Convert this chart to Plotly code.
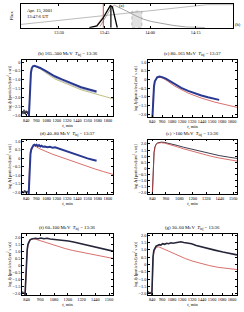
import plotly.graph_objects as go

W, H = 244, 312
FONT = "Liberation Serif"

# ---------------- panel (a) data ----------------
a_ticks = [810, 825, 840, 855]
a_ticktext = ["13:30", "13:45", "14:00", "14:15"]
a_diag_t = [797.5, 858.8, 867.3]
a_diag_v = [0.14, 0.97, 0.97]
a_nm_t = [820.0, 822.5, 824.5, 825.5, 826.3, 826.9, 827.6, 828.3, 829.2]
a_nm_v = [0.0, 0.08, 0.4, 0.62, 0.82, 0.93, 0.88, 0.45, 0.0]
a_prof_t = [823.5, 825.5, 827.0, 828.2, 830.0, 832.3, 835.0, 837.8, 840.5, 843.3, 847.5, 852.0, 858.0]
a_prof_v = [0.05, 0.45, 0.8, 0.95, 0.85, 0.7, 0.52, 0.36, 0.26, 0.19, 0.1, 0.03, 0.01]
a_pink_t = [822.0, 824.5, 826.5, 828.0]
a_pink_v = [0.05, 0.45, 0.82, 0.95]
a_red_t = 824.6
a_now_t = 827.1
a_hatch_t = [834.0, 837.3]
a_hatch_top = 0.7

# ---------------- panel (b) 165-500 MeV ----------------
b_noise_t = [790, 796, 802, 808, 814, 820, 826, 832, 838, 844, 850, 856, 862, 868]
b_noise_v = [-2.9, -2.78, -2.95, -2.82, -2.7, -2.93, -2.8, -2.97, -2.75, -2.88, -2.8, -2.95, -2.78, -2.9]
b_obs_t = [871, 876, 882, 888, 895, 905, 918, 938, 960, 1004, 1068, 1120, 1175, 1260, 1346, 1420, 1485, 1580, 1667]
b_obs_v = [-3.1, -2.4, -1.6, -1.0, -0.6, -0.35, -0.23, -0.2, -0.24, -0.33, -0.5, -0.65, -0.8, -0.98, -1.15, -1.29, -1.42, -1.55, -1.66]
b_mod2_t = [938, 960, 1004, 1068, 1175, 1260, 1346, 1485, 1580, 1667]
b_mod2_v = [-0.21, -0.26, -0.36, -0.56, -0.88, -1.06, -1.23, -1.5, -1.63, -1.74]
b_mod_t = [869, 875, 881, 888, 895, 905, 918, 938, 960, 1004, 1068, 1175, 1260, 1346, 1485, 1580, 1667, 1760, 1860]
b_mod_v = [-3.1, -2.3, -1.5, -0.9, -0.55, -0.33, -0.23, -0.21, -0.26, -0.38, -0.6, -0.95, -1.12, -1.3, -1.57, -1.7, -1.82, -1.95, -2.08]

# ---------------- panel (c) 80-165 MeV ----------------
c_obs_t = [842, 848, 855, 862, 872, 885, 900, 927, 960, 1004, 1060, 1111, 1190, 1272, 1350, 1432, 1510, 1592, 1646]
c_obs_v = [-2.3, -1.5, -0.8, -0.4, -0.1, 0.05, 0.13, 0.17, 0.14, 0.05, -0.12, -0.28, -0.48, -0.65, -0.79, -0.92, -1.02, -1.12, -1.17]
c_mod_t = [840, 846, 853, 860, 870, 885, 900, 927, 960, 1004, 1111, 1272, 1432, 1592, 1700, 1780, 1860]
c_mod_v = [-2.3, -1.5, -0.85, -0.45, -0.15, 0.02, 0.1, 0.13, 0.09, -0.02, -0.38, -0.78, -1.07, -1.3, -1.43, -1.52, -1.6]

# ---------------- panel (d) 40-80 MeV ----------------
d_noise_t = [790, 797, 804, 811, 818, 825, 832, 839, 846, 853, 860]
d_noise_v = [-2.0, -1.92, -2.05, -1.95, -1.88, -2.02, -1.9, -2.05, -1.93, -2.0, -1.9]
d_obs_t = [868, 875, 882, 890, 900, 912, 925, 937, 949, 962, 975, 990, 1005, 1020, 1036, 1060, 1090, 1120, 1150, 1180, 1208, 1260, 1300, 1346, 1400, 1450, 1497, 1560, 1620, 1667]
d_obs_v = [-2.2, -1.0, -0.2, 0.3, 0.55, 0.7, 0.77, 0.8, 0.76, 0.8, 0.72, 0.78, 0.7, 0.74, 0.68, 0.7, 0.65, 0.68, 0.62, 0.65, 0.6, 0.52, 0.45, 0.38, 0.28, 0.2, 0.1, 0.0, -0.08, -0.14]
d_mod_t = [866, 872, 880, 890, 902, 915, 930, 940, 960, 1000, 1060, 1151, 1250, 1344, 1440, 1538, 1640, 1750, 1860]
d_mod_v = [-2.2, -1.2, -0.3, 0.25, 0.55, 0.7, 0.75, 0.74, 0.68, 0.56, 0.42, 0.24, 0.07, -0.1, -0.27, -0.44, -0.61, -0.78, -0.94]

# ---------------- panel (e) >100 MeV ----------------
e_t = [838, 843, 848, 854, 862, 872, 885, 900, 919, 950, 1000, 1060, 1118, 1200, 1276, 1360, 1435, 1520, 1594]
e_mod1_v = [-2.3, -0.8, 0.5, 1.3, 1.75, 1.98, 2.08, 2.13, 2.15, 2.12, 2.03, 1.88, 1.73, 1.55, 1.38, 1.2, 1.05, 0.92, 0.82]
e_mod2_v = [-2.3, -0.8, 0.5, 1.3, 1.73, 1.95, 2.05, 2.09, 2.1, 2.06, 1.95, 1.77, 1.6, 1.38, 1.2, 1.0, 0.85, 0.7, 0.6]

# ---------------- panel (f) 60-100 MeV ----------------
f_noise_t = [800, 806, 812, 818, 824]
f_noise_v = [-1.95, -1.85, -2.0, -1.9, -2.05]
f_obs_t = [826, 832, 838, 845, 852, 860, 870, 885, 900, 919, 940, 966, 990, 1020, 1045, 1080, 1124, 1165, 1204, 1250, 1309, 1360, 1415, 1470, 1520, 1560, 1594]
f_obs_v = [-2.2, -0.8, 0.4, 1.1, 1.5, 1.7, 1.82, 1.88, 1.9, 1.93, 1.9, 1.95, 1.9, 1.93, 1.88, 1.86, 1.82, 1.78, 1.74, 1.66, 1.55, 1.45, 1.35, 1.25, 1.15, 1.08, 1.02]
f_mod_t = [826, 832, 838, 845, 852, 862, 875, 890, 900, 920, 950, 1000, 1045, 1110, 1177, 1240, 1309, 1380, 1443, 1520, 1594]
f_mod_v = [-2.2, -0.9, 0.3, 1.0, 1.4, 1.68, 1.83, 1.9, 1.9, 1.86, 1.78, 1.64, 1.52, 1.36, 1.2, 1.07, 0.95, 0.84, 0.75, 0.62, 0.5]

# ---------------- panel (g) 30-60 MeV ----------------
g_noise_t = [790, 797, 804, 811, 818, 825, 832]
g_noise_v = [-1.95, -1.85, -2.0, -1.9, -2.02, -1.88, -1.98]
g_obs_t = [836, 842, 850, 860, 872, 887, 905, 925, 945, 966, 990, 1015, 1040, 1065, 1090, 1122, 1150, 1186, 1220, 1260, 1314, 1370, 1432, 1500, 1592, 1690, 1785, 1860]
g_obs_v = [-2.2, -0.5, 0.5, 0.95, 1.15, 1.25, 1.3, 1.35, 1.32, 1.42, 1.38, 1.45, 1.42, 1.48, 1.45, 1.5, 1.53, 1.55, 1.5, 1.46, 1.42, 1.3, 1.2, 1.1, 0.98, 0.85, 0.73, 0.65]
g_mod_t = [835, 841, 848, 856, 866, 880, 900, 918, 950, 1000, 1080, 1160, 1240, 1330, 1432, 1530, 1635, 1750, 1860]
g_mod_v = [-2.2, -0.8, 0.2, 0.7, 0.95, 1.1, 1.18, 1.2, 1.13, 1.0, 0.8, 0.6, 0.4, 0.22, 0.05, -0.08, -0.2, -0.28, -0.35]

# ---------------- ticks & labels ----------------
x_ticks_long = [840, 960, 1080, 1200, 1320, 1440, 1560, 1680, 1800]
x_ticks_short = [840, 960, 1080, 1200, 1320, 1440, 1560]
y_ticks_b = [0, -0.5, -1.0, -1.5, -2.0, -2.5, -3.0]
y_ticks_cd = [1.0, 0.5, 0, -0.5, -1.0, -1.5, -2.0]
y_ticks_efg = [2.0, 1.5, 1.0, 0.5, 0, -0.5, -1.0, -1.5, -2.0]
titles = [
    "(b) 165\u2013500 MeV  <i>T</i><sub>inj</sub> = 13:36",
    "(c) 80\u2013165 MeV  <i>T</i><sub>inj</sub> = 13:37",
    "(d) 40\u201380 MeV  <i>T</i><sub>inj</sub> = 13:37",
    "(e) >100 MeV  <i>T</i><sub>inj</sub> = 13:36",
    "(f) 60\u2013100 MeV  <i>T</i><sub>inj</sub> = 13:36",
    "(g) 30\u201360 MeV  <i>T</i><sub>inj</sub> = 13:36",
]
ylab = "log <i>J</i><sub>p</sub> [particles/(cm<sup>2</sup> s sr)]"
xlab = "<i>t</i>, min"

def fmt(v):
    if v == 0:
        return "0"
    return f"{v:.1f}".replace("-", "\u2212")

BLUE = "#2a3990"
DARK = "#26263a"
RED = "#c8322e"
OLIVE = "#a6a24a"

fig = go.Figure()

def px(x):
    return x / W

def py(y):
    return 1 - y / H

# panel boxes in pixels: (x0, x1, y_top, y_bottom)
boxes = {
    1: (21, 233, 3, 27),
    2: (22, 113, 60, 116),
    3: (148, 237, 60, 117),
    4: (22, 113, 140, 195),
    5: (148, 237, 140, 195),
    6: (22, 113, 235, 297),
    7: (148, 237, 235, 297),
}

def axis_common():
    return dict(showline=True, linecolor="black", linewidth=0.6, mirror="ticks",
                ticks="inside", ticklen=2, tickwidth=0.5, tickcolor="black",
                showgrid=False, zeroline=False, tickangle=0,
                tickfont=dict(family=FONT, size=4.3, color="black"))

def line(x, y, i, color, width, **kw):
    fig.add_trace(go.Scatter(x=x, y=y, mode="lines", line=dict(color=color, width=width, **kw),
                             xaxis="x" if i == 1 else f"x{i}", yaxis="y" if i == 1 else f"y{i}",
                             showlegend=False, hoverinfo="skip"))

# ---- panel (a) traces ----
line(a_diag_t, a_diag_v, 1, "#aaaaaa", 0.8)
line(a_prof_t, a_prof_v, 1, "#8a8a8a", 0.8)
hx = [a_hatch_t[0], a_hatch_t[1], a_hatch_t[1], a_hatch_t[0], a_hatch_t[0]]
hy = [0, 0, a_hatch_top, a_hatch_top, 0]
fig.add_trace(go.Scatter(x=hx, y=hy, mode="lines", fill="toself", fillcolor="rgba(170,170,170,0.35)",
                         line=dict(color="#999999", width=0.6, dash="dot"), xaxis="x", yaxis="y",
                         showlegend=False, hoverinfo="skip"))
line([a_red_t, a_red_t], [0, 1], 1, RED, 0.9)
line(a_pink_t, a_pink_v, 1, "#e8a0a0", 0.6)
line(a_nm_t, a_nm_v, 1, "black", 1.3)
line([a_now_t, a_now_t], [0, a_nm_v[5]], 1, "black", 1.2)

# ---- panel (b) ----
line(b_noise_t, b_noise_v, 2, DARK, 0.9)
line(b_mod_t, b_mod_v, 2, OLIVE, 0.7)
line(b_mod2_t, b_mod2_v, 2, "#9a9cc8", 0.7)
line(b_obs_t, b_obs_v, 2, BLUE, 2.0)
# ---- panel (c) ----
line(c_mod_t, c_mod_v, 3, RED, 0.7)
line(c_obs_t, c_obs_v, 3, BLUE, 2.0)
# ---- panel (d) ----
line(d_noise_t, d_noise_v, 4, DARK, 0.9)
line(d_mod_t, d_mod_v, 4, RED, 0.7)
line(d_obs_t, d_obs_v, 4, BLUE, 2.0)
# ---- panel (e) ----
line(e_t, e_mod1_v, 5, DARK, 0.9)
line(e_t, e_mod2_v, 5, RED, 0.7)
# ---- panel (f) ----
line(f_noise_t, f_noise_v, 6, DARK, 0.9)
line(f_mod_t, f_mod_v, 6, RED, 0.7)
line(f_obs_t, f_obs_v, 6, DARK, 1.6)
# ---- panel (g) ----
line(g_noise_t, g_noise_v, 7, DARK, 0.9)
line(g_mod_t, g_mod_v, 7, RED, 0.7)
line(g_obs_t, g_obs_v, 7, DARK, 1.6)

layout = dict(width=W, height=H, margin=dict(l=0, r=0, t=0, b=0), autosize=False,
              paper_bgcolor="white", plot_bgcolor="white", showlegend=False,
              font=dict(family=FONT, size=5, color="black"))

xr = {1: [797.5, 867.3], 2: [790, 1860], 3: [790, 1860], 4: [790, 1860],
      5: [800, 1594], 6: [800, 1594], 7: [790, 1860]}
yr = {1: [0, 1.0], 2: [-3.05, 0.1], 3: [-2.15, 1.1], 4: [-2.1, 1.1],
      5: [-2.1, 2.35], 6: [-2.1, 2.25], 7: [-2.1, 2.1]}
xt = {2: x_ticks_long, 3: x_ticks_long, 4: x_ticks_long, 5: x_ticks_short, 6: x_ticks_short, 7: x_ticks_long}
yt = {2: y_ticks_b, 3: y_ticks_cd, 4: y_ticks_cd, 5: y_ticks_efg, 6: y_ticks_efg, 7: y_ticks_efg}

for i, (x0, x1, y0, y1) in boxes.items():
    xa = axis_common()
    ya = axis_common()
    xa.update(domain=[px(x0), px(x1)], range=xr[i], anchor="y" if i == 1 else f"y{i}")
    ya.update(domain=[py(y1), py(y0)], range=yr[i], anchor="x" if i == 1 else f"x{i}")
    if i == 1:
        xa.update(tickvals=a_ticks, ticktext=a_ticktext)
        ya.update(showticklabels=False, ticks="",
                  title=dict(text="Flux", font=dict(family=FONT, size=5), standoff=6))
    else:
        xa.update(tickvals=xt[i], ticktext=[str(v) for v in xt[i]],
                  title=dict(text=xlab, font=dict(family=FONT, size=4.6), standoff=0))
        ya.update(tickvals=yt[i], ticktext=[fmt(v) for v in yt[i]],
                  title=dict(text=ylab, font=dict(family=FONT, size=4.2), standoff=1))
    layout["xaxis" if i == 1 else f"xaxis{i}"] = xa
    layout["yaxis" if i == 1 else f"yaxis{i}"] = ya

ann = []
for k, i in enumerate(range(2, 8)):
    x0, x1, y0, y1 = boxes[i]
    ann.append(dict(text=titles[k], x=px((x0 + x1) / 2), y=py(y0 - 6), xref="paper", yref="paper",
                    showarrow=False, xanchor="center", yanchor="middle",
                    font=dict(family=FONT, size=4.8, color="black")))
ann.append(dict(text="(a)", x=px(122), y=py(0), xref="paper", yref="paper", showarrow=False,
                xanchor="center", yanchor="top", font=dict(family=FONT, size=4.6)))
ann.append(dict(text="(h)", x=px(238), y=py(24), xref="paper", yref="paper", showarrow=False,
                xanchor="center", yanchor="middle", font=dict(family=FONT, size=4.6)))
ann.append(dict(text="Apr. 15, 2001<br>13:47:6 UT", x=px(25), y=py(5), xref="paper", yref="paper",
                showarrow=False, xanchor="left", yanchor="top", align="left",
                font=dict(family=FONT, size=4.6)))
layout["annotations"] = ann

fig.update_layout(**layout)
fig.write_html("out.html")
